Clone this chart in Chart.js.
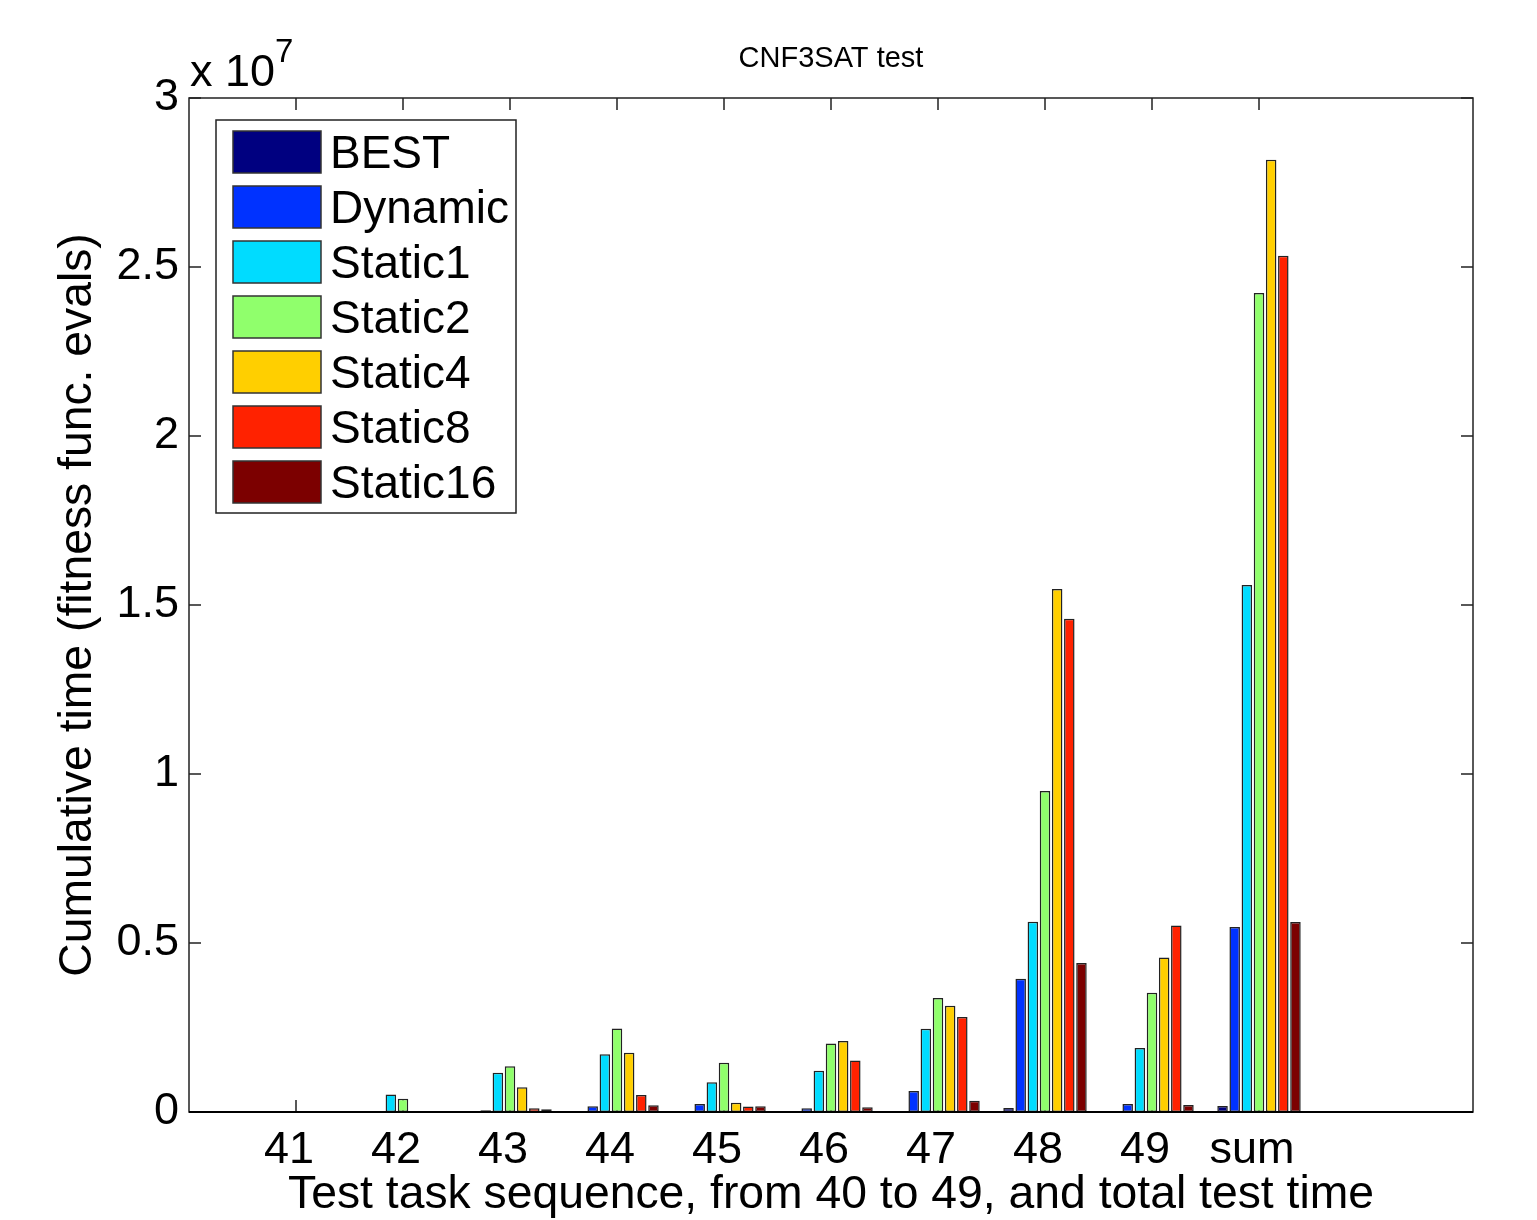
<!DOCTYPE html>
<html>
<head>
<meta charset="utf-8">
<script src="https://cdn.jsdelivr.net/npm/chart.js@4.4.1/dist/chart.umd.min.js"></script>
<style>
  html, body { margin: 0; padding: 0; background: #fff; }
  #wrap { width: 1537px; height: 1220px; }
</style>
</head>
<body>
<div id="wrap"><canvas id="myChart"></canvas></div>
<script>
// values in millions of fitness function evaluations (axis reads x 10^7)
const tasks = ['41', '42', '43', '44', '45', '46', '47', '48', '49', 'sum'];
const best     = [0,    0,    0,    0,    0,    0,    0.01, 0.12,  0,    0.18];
const dynamic  = [0,    0.01, 0.05, 0.17, 0.24, 0.11, 0.62, 3.94,  0.24, 5.47];
const static1  = [0.03, 0.52, 1.16, 1.71, 0.88, 1.22, 2.46, 5.63,  1.89, 15.59];
const static2  = [0,    0.39, 1.35, 2.47, 1.46, 2.03, 3.37, 9.50,  3.53, 24.23];
const static4  = [0,    0.02, 0.73, 1.75, 0.27, 2.10, 3.14, 15.47, 4.57, 28.17];
const static8  = [0,    0.02, 0.11, 0.50, 0.16, 1.52, 2.81, 14.59, 5.52, 25.33];
const static16 = [0,    0.02, 0.08, 0.20, 0.17, 0.14, 0.33, 4.41,  0.21, 5.62];
const yTicks = [0, 5, 10, 15, 20, 25, 30];

// x axis runs from 0 to 12 like the matlab plot, tasks sit at 1..10
const labels = [''].concat(tasks, ['', '']);
function pad(arr) { return [null].concat(arr, [null, null]); }

const series = [
  ['BEST', best, '#000080'],
  ['Dynamic', dynamic, '#0032ff'],
  ['Static1', static1, '#00dcff'],
  ['Static2', static2, '#90ff6c'],
  ['Static4', static4, '#ffcf00'],
  ['Static8', static8, '#ff2200'],
  ['Static16', static16, '#7c0000'],
];

const FONT = 'Liberation Sans, Arial, Helvetica, sans-serif';

const boxPlugin = {
  id: 'matlabBox',
  beforeDatasetsDraw(chart) {
    // inward ticks, drawn under the bars like matlab does
    const c = chart.ctx, a = chart.chartArea;
    const xs = chart.scales.x, ys = chart.scales.y;
    c.save();
    c.strokeStyle = '#222';
    c.lineWidth = 1.5;
    c.beginPath();
    for (let i = 1; i <= tasks.length; i++) {
      const px = xs.getPixelForValue(i);
      c.moveTo(px, a.bottom); c.lineTo(px, a.bottom - 12);
      c.moveTo(px, a.top); c.lineTo(px, a.top + 12);
    }
    yTicks.forEach(v => {
      const py = ys.getPixelForValue(v);
      c.moveTo(a.left, py); c.lineTo(a.left + 12, py);
      c.moveTo(a.right, py); c.lineTo(a.right - 12, py);
    });
    c.stroke();
    c.restore();
  },
  afterDraw(chart) {
    const c = chart.ctx, a = chart.chartArea;
    const ys = chart.scales.y;
    c.save();
    // axes box
    c.strokeStyle = '#222';
    c.lineWidth = 1.5;
    c.strokeRect(a.left, a.top, a.right - a.left, a.bottom - a.top);
    // baseline
    c.strokeStyle = '#000';
    c.lineWidth = 2;
    c.beginPath();
    c.moveTo(a.left, ys.getPixelForValue(0));
    c.lineTo(a.right, ys.getPixelForValue(0));
    c.stroke();

    // title and exponent
    c.fillStyle = '#000';
    c.textBaseline = 'alphabetic';
    c.textAlign = 'center';
    c.font = '29px ' + FONT;
    c.fillText('CNF3SAT test', (a.left + a.right) / 2, 67);
    c.textAlign = 'left';
    c.font = '45px ' + FONT;
    c.fillText('x 10', a.left + 1, 86);
    const w = c.measureText('x 10').width;
    c.font = '33px ' + FONT;
    c.fillText('7', a.left + 1 + w, 62);

    // legend
    const lx = a.left + 27, ly = a.top + 22;
    c.fillStyle = '#fff';
    c.fillRect(lx, ly, 300, 393);
    c.strokeStyle = '#222';
    c.lineWidth = 1.5;
    c.strokeRect(lx, ly, 300, 393);
    c.font = '46px ' + FONT;
    chart.data.datasets.forEach((ds, i) => {
      const sy = ly + 11 + i * 55;
      c.fillStyle = ds.backgroundColor;
      c.fillRect(lx + 17, sy, 88, 42);
      c.strokeStyle = '#333';
      c.strokeRect(lx + 17, sy, 88, 42);
      c.fillStyle = '#000';
      c.fillText(ds.label, lx + 114, sy + 37);
    });
    c.restore();
  }
};

const ctx = document.getElementById('myChart');
new Chart(ctx, {
  type: 'bar',
  data: {
    labels: labels,
    datasets: series.map(s => ({
      label: s[0],
      data: pad(s[1]),
      backgroundColor: s[2],
      borderColor: '#222',
      borderWidth: 1.5,
      borderSkipped: false,
      categoryPercentage: 0.795,
      barPercentage: 0.865,
    }))
  },
  options: {
    responsive: true,
    maintainAspectRatio: false,
    animation: false,
    layout: { padding: { top: 98, right: 64, left: 0, bottom: 0 } },
    plugins: {
      legend: { display: false },
      tooltip: { enabled: false },
    },
    scales: {
      x: {
        type: 'category',
        offset: false,
        grid: { display: false, drawTicks: false },
        border: { display: false },
        ticks: {
          color: '#000',
          font: { family: FONT, size: 45, lineHeight: 1 },
          padding: 16,
          labelOffset: -7,
          maxRotation: 0,
          autoSkip: false,
        },
        title: {
          display: true,
          text: 'Test task sequence, from 40 to 49, and total test time',
          color: '#000',
          font: { family: FONT, size: 46.3, lineHeight: 1 },
          padding: { top: 0, bottom: 2 },
        },
        afterFit(scale) { scale.height = 108; }
      },
      y: {
        min: 0,
        max: 30,
        grid: { display: false, drawTicks: false },
        border: { display: false },
        afterBuildTicks(scale) { scale.ticks = yTicks.map(v => ({ value: v })); },
        ticks: {
          color: '#000',
          font: { family: FONT, size: 45 },
          padding: 10,
          callback: v => String(v / 10),
        },
        title: {
          display: true,
          text: 'Cumulative time (fitness func. evals)',
          color: '#000',
          font: { family: FONT, size: 46.3, lineHeight: 1 },
          padding: { top: 55, bottom: 0 },
        },
        afterFit(scale) { scale.width = 189; }
      }
    }
  },
  plugins: [boxPlugin]
});
</script>
</body>
</html>
